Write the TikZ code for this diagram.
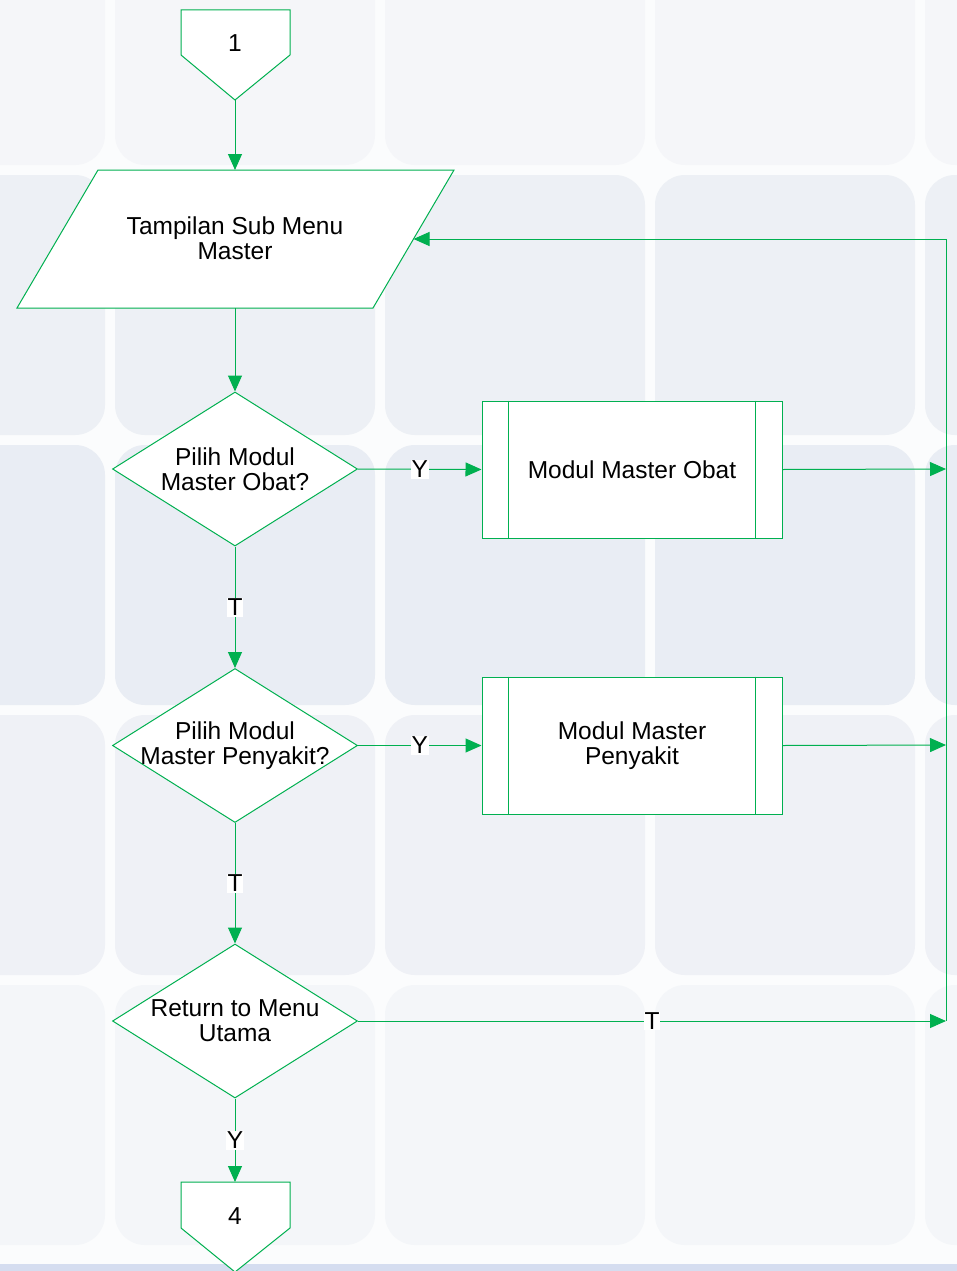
\documentclass[tikz,border=0pt]{standalone}
\usepackage{fontspec}
\setmainfont{Liberation Sans}
\usetikzlibrary{shapes.geometric,arrows.meta}
\definecolor{lg}{RGB}{0,176,80}
\definecolor{bgc}{HTML}{FBFCFD}
\definecolor{t0}{HTML}{F5F6F9}
\definecolor{t1}{HTML}{EDF0F5}
\definecolor{t2}{HTML}{E9EDF4}
\definecolor{t3}{HTML}{EFF1F6}
\definecolor{t4}{HTML}{F4F6F9}
\definecolor{botc}{HTML}{D5DDF0}
\begin{document}
\begin{tikzpicture}[x=1pt,y=-1pt,
  line/.style={draw=lg, line width=1pt},
  arr/.style={line, -{Triangle[length=16pt,width=14pt]}},
  txt/.style={font=\fontsize{24.5}{25}\selectfont, align=center, inner sep=0pt},
  lab/.style={fill=white, inner sep=1pt, font=\fontsize{24.5}{25}\selectfont},
  dec/.style={diamond, draw=lg, fill=white, line width=1pt, minimum width=245pt, minimum height=154pt, inner sep=0pt},
  proc/.style={rectangle, draw=lg, fill=white, line width=1pt, minimum width=300pt, minimum height=137pt, inner sep=0pt},
  tile/.style={rounded corners=30pt}]
\useasboundingbox (0,0) rectangle (957,1271);
% background
\fill[bgc] (0,0) rectangle (957,1271);
\foreach \r/\yy in {0/-95,1/175,2/445,3/715,4/985}{
  \foreach \xx in {-155,115,385,655,925}{
    \fill[t\r, tile] (\xx,\yy) rectangle ++(260,260);
  }
}
\fill[botc] (0,1264) rectangle (957,1271);

% coordinates
\coordinate (c1tip) at (235,100);
\coordinate (partop) at (235,170);
\coordinate (parbot) at (235,308);
\coordinate (parR) at (413.5,239);
\coordinate (rtop) at (946,239);
\coordinate (r1) at (946,469);
\coordinate (r2) at (946,745);
\coordinate (r3) at (946,1021);
\coordinate (c4top) at (235,1182);

% connector 1
\draw[line, fill=white] (181,10) -- (290,10) -- (290,55) -- (c1tip) -- (181,55) -- cycle;
\node[txt] (c1) at (235,43) {1};

% parallelogram
\draw[line, fill=white] (98,170) -- (454,170) -- (373,308) -- (17,308) -- cycle;
\node[txt] (par) at (235,238) {Tampilan Sub Menu\\Master};

% decisions
\node[dec] (d1) at (235,469) {};
\node[txt] (d1t) at (d1) {Pilih Modul\\Master Obat?};
\node[dec] (d2) at (235,745.5) {};
\node[txt] (d2t) at (d2) {Pilih Modul\\Master Penyakit?};
\node[dec] (d3) at (235,1021) {};
\node[txt] (d3t) at (d3) {Return to Menu\\Utama};

% processes
\node[proc] (p1) at (632,469.5) {};
\draw[line] ([xshift=27pt]p1.north west) -- ([xshift=27pt]p1.south west);
\draw[line] ([xshift=-27pt]p1.north east) -- ([xshift=-27pt]p1.south east);
\node[txt] (p1t) at (p1) {Modul Master Obat};
\node[proc] (p2) at (632,745.5) {};
\draw[line] ([xshift=27pt]p2.north west) -- ([xshift=27pt]p2.south west);
\draw[line] ([xshift=-27pt]p2.north east) -- ([xshift=-27pt]p2.south east);
\node[txt] (p2t) at (p2) {Modul Master\\Penyakit};

% connector 4
\draw[line, fill=white] (181,1182) -- (290,1182) -- (290,1228) -- (235,1272) -- (181,1228) -- cycle;
\node[txt] (c4) at (235,1216) {4};

% arrows
\draw[arr] (c1tip) -- (partop);
\draw[arr] (parbot) -- (d1.north);
\draw[arr] (d1.east) -- node[lab]{Y} (p1.west);
\draw[arr] (d1.south) -- node[lab]{T} (d2.north);
\draw[arr] (d2.east) -- node[lab]{Y} (p2.west);
\draw[arr] (d2.south) -- node[lab]{T} (d3.north);
\draw[arr] (d3.south) -- node[lab]{Y} (c4top);
\draw[arr] (d3.east) -- node[lab]{T} (r3);
\draw[arr] (p1.east) -- (r1);
\draw[arr] (p2.east) -- (r2);
\draw[arr] (r3) -- (rtop) -- (parR);
\end{tikzpicture}
\end{document}
